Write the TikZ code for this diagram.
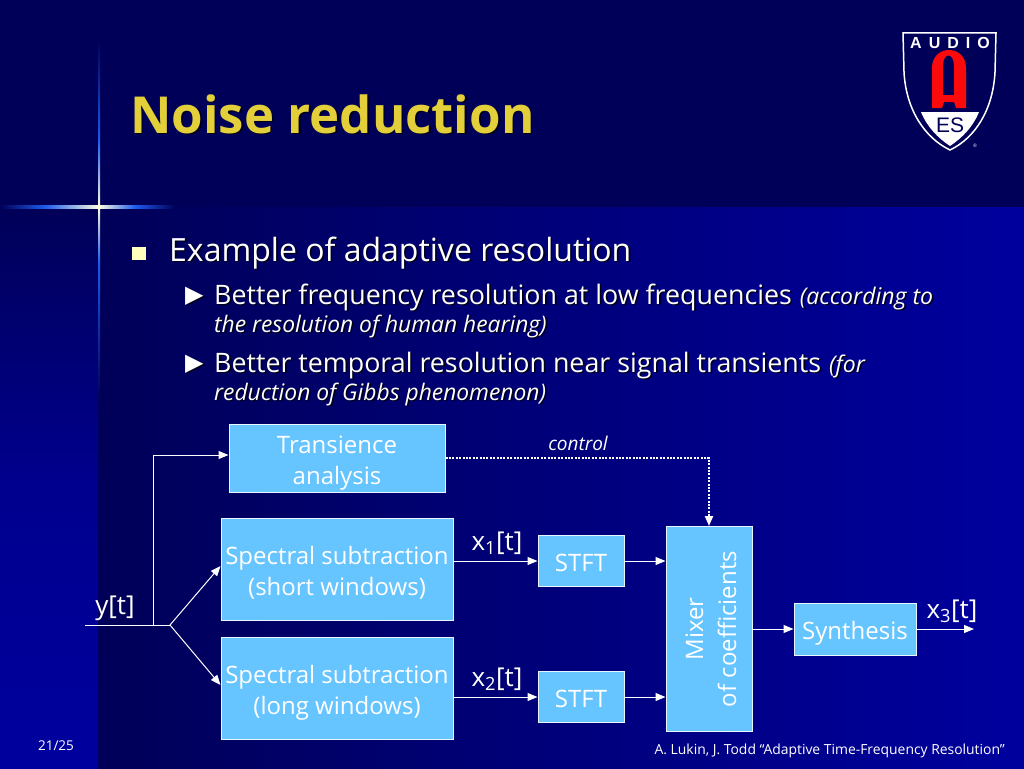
\documentclass[tikz,border=0pt]{standalone}
\usepackage{fontspec}
\setmainfont{Open Sans}
\newfontfamily\symfont{DejaVu Sans}
\newfontfamily\logofont{Liberation Sans}
\usetikzlibrary{arrows.meta}
\definecolor{navy}{RGB}{0,0,88}
\definecolor{deepblue}{RGB}{0,0,158}
\definecolor{boxblue}{RGB}{102,196,255}
\definecolor{titleyellow}{RGB}{226,207,58}
\definecolor{bulletyellow}{RGB}{255,255,190}
\definecolor{flarecol}{RGB}{30,90,235}
\definecolor{flarecore}{RGB}{255,255,225}
\definecolor{shieldred}{RGB}{250,10,10}
\newcommand{\shad}[1]{\makebox[0pt][l]{\hspace{1.6pt}\raisebox{-1.6pt}{\color{black!75!navy}#1}}#1}
\newcommand{\topfix}{\rule{0pt}{27pt}}
\newcommand{\botfix}{\rule[-6pt]{0pt}{6pt}}
\tikzset{
  block/.style={draw=white!85!boxblue,line width=1pt,fill=boxblue,text=white,align=center,inner sep=0pt,font=\fontsize{24}{31}\selectfont},
  flow/.style={draw=white,line width=1pt,-{Triangle[length=10pt,width=8pt]}},
  wire/.style={draw=white,line width=1pt},
  sigtext/.style={text=white,font=\fontsize{26}{28}\selectfont,inner sep=0pt},
  listtext/.style={text=white,anchor=base west,inner sep=0pt},
}
\begin{document}
\begin{tikzpicture}[x=1pt,y=-1pt]
  \useasboundingbox (0,0) rectangle (1024,768);
  % background
  \fill[navy] (0,0) rectangle (1024,768);
  \shade[left color=navy,right color=deepblue] (98,207) rectangle (1024,768);
  \shade[top color=navy,bottom color=deepblue,middle color=black!10!deepblue] (0,207) rectangle (98,768);
  \fill[navy] (0,0) rectangle (1024,207);
  % flare
  \shade[left color=navy,right color=flarecol] (0,205.5) rectangle (45,208.5);
  \shade[left color=flarecol,right color=flarecore] (45,205.5) rectangle (99,208.5);
  \shade[left color=flarecore,right color=flarecol] (99,205.5) rectangle (135,208.5);
  \shade[left color=flarecol,right color=navy] (135,205.5) rectangle (175,208.5);
  \shade[top color=navy,bottom color=flarecol] (98,40) rectangle (100,140);
  \shade[top color=flarecol,bottom color=flarecore] (98,140) rectangle (100,207);
  \shade[top color=flarecore,bottom color=flarecol] (98,207) rectangle (100,262);
  \shade[top color=flarecol,bottom color=navy] (98,262) rectangle (100,400);

  % title
  \node[anchor=base west,inner sep=0pt,text=titleyellow,font=\fontsize{51}{51}\selectfont\bfseries] (title) at (130,133) {\shad{Noise reduction}};

  % logo
  \draw[white,line width=1.5pt,fill=navy] (903,33) -- (996,33) -- (995,72)
    .. controls (993,110) and (975,138) .. (950,150)
    .. controls (925,138) and (906,110) .. (904,72) -- cycle;
  \fill[white] (921,112) -- (979,112) .. controls (973,127) and (962,138) .. (950,146)
    .. controls (938,138) and (927,127) .. (921,112) -- cycle;
  \fill[shieldred,even odd rule] (932,108) -- (932,68) .. controls (932,44) and (966,44) .. (966,68) -- (966,108) -- (956,108) -- (954,102) -- (944,102) -- (942,108) -- cycle
    (943,95) -- (954,95) -- (954,66) .. controls (954,52) and (943,52) .. (943,66) -- cycle;
  \node[text=white,inner sep=0pt,font=\logofont\fontsize{16}{16}\selectfont\bfseries] (audio) at (950,43) {A\hspace{7pt}U\hspace{7pt}D\hspace{7pt}I\hspace{7pt}O};
  \node[text=navy,inner sep=0pt,font=\logofont\fontsize{21}{21}\selectfont] (es) at (950,125) {ES};
  \node[text=white,inner sep=0pt,font=\logofont\fontsize{5}{5}\selectfont] (reg) at (975,146) {®};

  % list
  \fill[bulletyellow] (132,247) rectangle (146,260);
  \node[listtext,font=\fontsize{32}{32}\selectfont] (item) at (169,261) {\shad{Example of adaptive resolution}};
  \node[listtext,font=\symfont\fontsize{24}{24}\selectfont] (mark1) at (185,302) {\shad{▶}};
  \node[listtext,font=\fontsize{26.8}{26.8}\selectfont] (sub1) at (214,304) {\shad{Better frequency resolution at low frequencies}\hspace{8pt}\fontsize{23}{23}\selectfont\itshape\shad{(according to}};
  \node[listtext,font=\fontsize{22.8}{22.8}\selectfont\itshape] (sub1b) at (214,332) {\shad{the resolution of human hearing)}};
  \node[listtext,font=\symfont\fontsize{24}{24}\selectfont] (mark2) at (185,370) {\shad{▶}};
  \node[listtext,font=\fontsize{26.8}{26.8}\selectfont] (sub2) at (214,372) {\shad{Better temporal resolution near signal transients}\hspace{8pt}\fontsize{23}{23}\selectfont\itshape\shad{(for}};
  \node[listtext,font=\fontsize{22.8}{22.8}\selectfont\itshape] (sub2b) at (214,400) {\shad{reduction of Gibbs phenomenon)}};

  % blocks
  \node[block,minimum width=216pt,minimum height=68pt] (trans) at (337,458) {\topfix Transience\\analysis\botfix};
  \node[block,minimum width=232pt,minimum height=102pt] (spec1) at (337,569) {\topfix Spectral subtraction\\(short windows)\botfix};
  \node[block,minimum width=232pt,minimum height=102pt] (spec2) at (337,688) {\topfix Spectral subtraction\\(long windows)\botfix};
  \node[block,minimum width=86pt,minimum height=51pt] (stft1) at (581,561) {\topfix STFT\botfix};
  \node[block,minimum width=86pt,minimum height=51pt] (stft2) at (581,697) {\topfix STFT\botfix};
  \node[block,minimum width=86pt,minimum height=205pt] (mixer) at (709,629) {};
  \node[block,minimum width=122pt,minimum height=52pt] (synth) at (855,629) {\topfix Synthesis\botfix};

  % signals
  \coordinate (in) at (85,625);
  \coordinate (tap) at (153,625);
  \coordinate (fork) at (170,625);
  \coordinate (out) at (974,629);
  \draw[wire] (in) -- (fork);
  \draw[flow] (tap) |- ([yshift=3pt]trans.west);
  \draw[flow] (fork) -- ([yshift=3pt]spec1.west);
  \draw[flow] (fork) -- ([yshift=3pt]spec2.west);
  \draw[flow] (spec1.east |- stft1) -- (stft1);
  \draw[flow] (spec2.east |- stft2) -- (stft2);
  \draw[flow] (stft1) -- (mixer.west |- stft1);
  \draw[flow] (stft2) -- (mixer.west |- stft2);
  \draw[flow] (mixer.east |- synth) -- (synth);
  \draw[flow] (synth) -- (out);
  \draw[flow,line width=2pt,dash pattern=on 2pt off 1.4pt] (trans.east) -| (mixer.north);

  \node[text=white,inner sep=0pt,align=center,rotate=90,font=\fontsize{24}{33}\selectfont] (mixtext) at (711,629) {Mixer\\of coefficients};
  \node[sigtext,anchor=base] (ylab) at (115,614) {y[t]};
  \node[sigtext,anchor=base] (x1lab) at (497,550) {x\textsubscript{1}[t]};
  \node[sigtext,anchor=base] (x2lab) at (497,686) {x\textsubscript{2}[t]};
  \node[sigtext,anchor=base] (x3lab) at (952,618) {x\textsubscript{3}[t]};
  \node[text=white,inner sep=0pt,anchor=base,font=\fontsize{19}{19}\selectfont\itshape] (ctrl) at (578,450) {control};

  % footer
  \node[text=white,inner sep=0pt,anchor=base,font=\fontsize{13.5}{13.5}\selectfont] (page) at (56,750) {21/25};
  \node[text=white,inner sep=0pt,anchor=base east,font=\fontsize{13.9}{13.9}\selectfont] (foot) at (1005,754) {A. Lukin, J. Todd “Adaptive Time-Frequency Resolution”};
\end{tikzpicture}
\end{document}
